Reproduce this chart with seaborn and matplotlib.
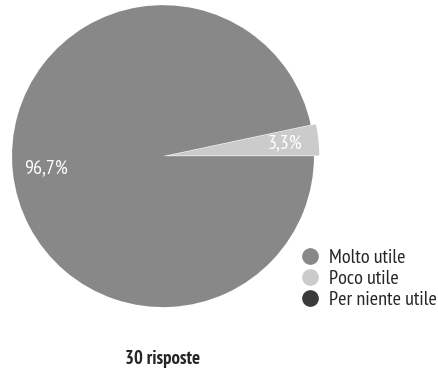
import matplotlib
matplotlib.use("Agg")
import matplotlib.pyplot as plt
from matplotlib.lines import Line2D
import seaborn as sns

categories = ["Molto utile", "Poco utile", "Per niente utile"]
counts = [29, 1, 0]
colors = ["#888888", "#cbcbcb", "#3b3b3b"]
title = "30 risposte"

sns.set_theme(style="white")
plt.rcParams["font.family"] = ["PT Sans Narrow", "DejaVu Sans"]

fig = plt.figure(figsize=(4.39, 3.70), dpi=100)
ax = fig.add_axes([0.0273, 0.170, 0.688, 0.816])

# draw order: Poco utile first (0°..12°), then Molto utile
order = [1, 0]
vals = [counts[i] for i in order]
cols = [colors[i] for i in order]
explode = [0.035, 0.0]

def fmt(p):
    return f"{p:.1f}%".replace(".", ",")

wedges, texts, autotexts = ax.pie(
    vals, colors=cols, startangle=0, counterclock=True, explode=explode,
    autopct=fmt, pctdistance=0.78, radius=1.0,
    wedgeprops=dict(linewidth=0),
    textprops=dict(color="white", fontsize=14.5),
)
for w in wedges:
    w.set_clip_on(False)
ax.set_xlim(-1, 1)
ax.set_ylim(-1, 1)
ax.set_aspect("equal")
ax.axis("off")

handles = [Line2D([0], [0], marker="o", linestyle="none", markersize=11,
                  markerfacecolor=c, markeredgecolor=c) for c in colors]
fig.legend(handles, categories, loc="upper left", bbox_to_anchor=(0.683, 0.328),
           frameon=False, handlelength=1.0, handletextpad=0.45, labelspacing=0.15,
           borderpad=0, borderaxespad=0, fontsize=14.6)

fig.text(0.37, 0.03, title, ha="center", va="center", fontsize=13.5, fontweight="bold")

fig.savefig("out.png", dpi=100, facecolor="white")
